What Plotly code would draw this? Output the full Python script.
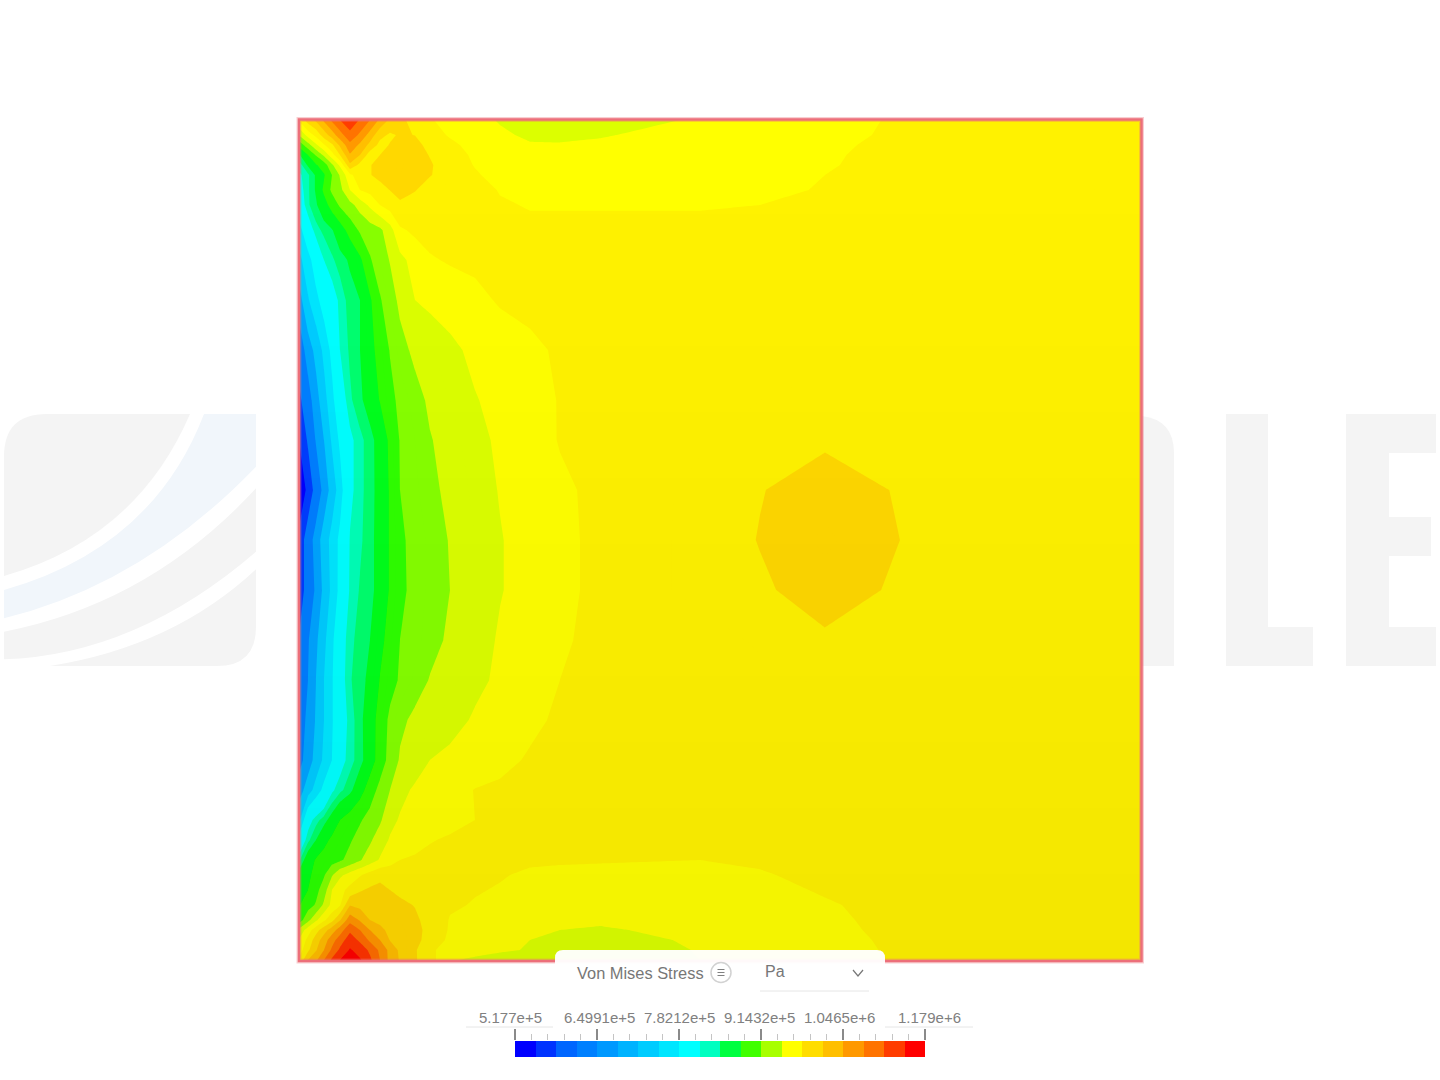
import plotly.graph_objects as go

W, H = 1440, 1080
VMIN, VMAX = 517700.0, 1179000.0

# plate coordinates (width 842, height 840)
plate_x = [0, 8, 16, 24, 32, 40, 50, 60, 70, 80, 90, 100, 115, 130, 150, 175, 200, 230, 260, 300, 400, 460, 525, 600, 700, 842]
plate_y = [0, 10, 20, 30, 40, 55, 70, 85, 100, 120, 140, 170, 200, 240, 280, 320, 370, 420, 470, 520, 560, 610, 660, 700, 730, 755, 770, 785, 795, 805, 815, 825, 840]

# stress, expressed on the plate's 0-22 band scale, bottom row first
stress_bands = [
 [15.3,17.0,17.8,19.0,20.2,21.0,21.7,21.1,20.2,19.0,17.7,16.9,16.1,15.4,14.05,13.9,13.7,13.6,13.5,13.4,14.0,14.4,14.72,15.1,15.35,15.5],
 [14.6,15.8,16.9,18.0,19.2,20.2,21.1,20.6,19.8,18.8,17.7,16.8,16.1,15.3,14.3,14.2,14.1,13.95,13.7,13.5,14.05,14.5,14.75,15.1,15.35,15.5],
 [14.2,15.3,16.5,17.5,18.6,19.5,20.55,19.8,18.8,18.0,16.95,16.7,16.3,15.6,14.8,14.4,14.2,14.0,13.8,13.6,14.15,14.55,14.8,15.12,15.35,15.5],
 [13.4,14.5,15.6,16.6,17.5,18.5,19.8,19.0,18.0,17.3,16.7,16.6,16.3,15.7,14.9,14.5,14.3,14.1,14.0,13.9,14.25,14.6,14.85,15.15,15.35,15.5],
 [11.6,12.7,13.8,14.8,15.7,16.9,18.6,17.9,17.0,16.7,16.6,16.5,16.2,15.6,14.95,14.7,14.45,14.3,14.2,14.15,14.35,14.65,14.9,15.15,15.35,15.5],
 [11.0,11.6,12.1,13.2,14.3,14.9,16.95,16.7,16.5,16.5,16.4,16.25,15.95,15.6,15.1,14.95,14.8,14.6,14.5,14.45,14.55,14.75,14.95,15.17,15.35,15.5],
 [10.6,11.0,11.7,12.5,14.0,14.7,15.3,15.9,16.15,16.2,16.0,15.75,15.5,15.35,15.25,15.05,14.95,14.85,14.8,14.75,14.75,14.85,15.05,15.2,15.35,15.5],
 [10.4,10.8,11.3,11.9,12.9,13.8,14.4,14.9,15.4,15.8,15.7,15.5,15.35,15.25,15.2,15.15,15.05,14.9,14.9,14.9,14.9,14.95,15.15,15.25,15.35,15.5],
 [9.5,10.5,11.1,11.4,11.6,11.85,12.3,12.9,13.5,14.1,14.55,15.0,15.15,15.2,15.2,15.2,15.15,15.1,15.05,15.03,15.0,15.08,15.2,15.3,15.4,15.5],
 [8.2,9.35,10.0,10.7,11.2,11.5,11.9,12.35,12.85,13.5,14.1,14.3,14.6,14.95,15.1,15.15,15.2,15.2,15.2,15.15,15.1,15.15,15.25,15.35,15.4,15.5],
 [6.5,8.6,9.3,9.75,10.35,11.0,11.45,11.9,12.35,12.85,13.7,14.1,14.3,14.45,14.75,15.0,15.1,15.15,15.2,15.2,15.2,15.25,15.3,15.35,15.4,15.55],
 [5.1,6.0,6.9,7.8,8.85,9.35,9.8,10.6,11.5,12.3,13.0,13.7,14.15,14.35,14.65,15.03,15.15,15.2,15.2,15.2,15.2,15.25,15.3,15.35,15.4,15.55],
 [4.2,5.0,5.85,6.7,7.5,8.6,9.3,9.75,10.5,11.45,12.35,13.1,13.5,14.0,14.2,14.45,14.75,15.1,15.2,15.2,15.25,15.25,15.3,15.35,15.45,15.55],
 [4.0,4.75,5.6,6.5,7.4,8.35,9.25,9.8,10.5,11.4,12.2,12.8,13.2,13.4,13.7,14.1,14.4,14.8,15.15,15.2,15.2,15.3,15.35,15.4,15.45,15.55],
 [3.5,4.5,5.5,6.5,7.4,8.55,9.45,9.75,10.2,11.05,11.65,12.1,12.6,13.05,13.35,13.8,14.15,14.6,15.0,15.2,15.3,15.4,15.55,15.5,15.5,15.55],
 [3.2,4.4,5.3,6.25,7.25,8.5,9.35,9.7,10.0,10.7,11.4,12.0,12.35,12.7,13.15,13.6,14.1,14.5,14.9,15.2,15.35,15.55,15.9,15.6,15.5,15.5],
 [2.5,3.5,4.75,5.75,6.75,7.8,9.1,9.55,9.8,10.3,11.1,11.8,12.25,12.6,13.0,13.5,13.95,14.35,14.75,15.25,15.6,15.9,16.3,15.9,15.6,15.55],
 [2.2,3.8,5.0,5.95,6.85,7.75,9.05,9.4,9.8,10.3,11.1,11.85,12.25,12.6,13.05,13.5,13.95,14.35,14.75,15.25,15.6,16.03,16.6,16.0,15.6,15.55],
 [0.3,2.0,3.6,4.9,5.9,7.0,8.8,9.35,9.75,10.3,11.1,12.0,12.4,12.8,13.2,13.6,14.05,14.45,14.85,15.2,15.6,15.97,16.3,15.95,15.6,15.55],
 [1.7,3.2,4.6,5.5,6.65,7.7,8.8,9.35,9.75,10.35,11.2,12.05,12.5,12.95,13.3,13.75,14.15,14.6,15.05,15.2,15.45,15.65,15.9,15.7,15.6,15.55],
 [2.8,4.0,5.1,6.1,7.2,8.4,9.4,9.85,10.4,11.05,11.75,12.2,12.7,13.15,13.5,13.95,14.25,14.65,15.05,15.2,15.4,15.5,15.55,15.55,15.55,15.55],
 [3.9,5.0,5.8,6.75,7.8,9.0,9.6,10.0,10.7,11.35,12.05,12.7,13.2,13.45,13.8,14.2,14.5,14.85,15.1,15.2,15.35,15.4,15.45,15.5,15.55,15.55],
 [5.2,6.4,7.2,8.0,8.6,9.15,9.75,10.0,10.85,11.9,12.6,13.2,14.0,14.2,14.4,14.75,15.1,15.2,15.3,15.3,15.35,15.4,15.45,15.5,15.55,15.55],
 [6.3,7.1,8.1,9.0,9.4,9.75,10.1,10.8,11.9,12.55,13.05,13.7,14.4,14.9,15.1,15.2,15.25,15.25,15.2,15.2,15.2,15.25,15.35,15.45,15.5,15.55],
 [7.2,8.4,9.3,9.65,9.95,10.5,11.4,12.15,12.5,12.8,13.6,14.85,15.2,15.35,15.4,15.35,15.2,15.1,15.1,15.1,15.1,15.15,15.25,15.35,15.45,15.55],
 [8.4,9.4,9.9,10.6,11.4,12.15,12.7,13.4,14.2,15.0,15.45,15.9,15.6,15.4,15.3,15.2,15.05,14.97,14.97,14.97,14.97,15.0,15.12,15.3,15.4,15.55],
 [8.7,9.4,10.1,11.2,12.2,12.7,14.0,15.0,15.3,15.6,16.02,16.2,16.05,15.6,15.35,15.2,14.97,14.8,14.75,14.75,14.75,14.85,15.05,15.25,15.4,15.55],
 [8.9,9.4,10.1,10.9,12.0,13.1,14.8,15.5,15.95,16.3,16.4,16.5,16.3,16.05,15.6,15.1,14.7,14.5,14.5,14.5,14.5,14.7,15.0,15.2,15.35,15.55],
 [9.3,10.1,10.9,11.5,12.8,14.2,16.8,15.7,15.95,16.3,16.45,16.55,16.35,16.1,15.5,14.95,14.6,14.4,14.4,14.35,14.4,14.65,14.95,15.2,15.35,15.55],
 [10.0,11.0,12.1,13.2,14.6,16.0,17.9,17.0,15.5,16.0,16.3,16.5,16.4,15.95,15.4,14.85,14.4,14.2,14.2,14.2,14.35,14.6,14.9,15.25,15.3,15.55],
 [11.5,12.6,13.8,14.9,15.8,17.2,18.7,17.8,16.7,15.7,16.05,16.4,16.3,15.7,15.2,14.7,14.3,14.05,14.05,14.1,14.3,14.55,14.85,15.2,15.3,15.55],
 [13.2,14.4,15.3,16.5,17.5,18.6,19.7,18.8,17.6,16.3,15.85,16.1,15.98,15.4,14.9,14.5,14.1,13.9,13.85,13.95,14.25,14.5,14.75,15.15,15.3,15.55],
 [15.3,16.5,17.2,18.2,19.2,20.0,20.7,19.9,19.0,17.8,16.8,16.2,15.7,15.1,14.6,14.2,13.95,13.6,13.6,13.6,14.1,14.4,14.7,15.1,15.3,15.55],
]

plate_edges = [0, 1.5, 3, 4.5, 5.5, 6.5, 7.5, 9, 9.5, 10, 11, 12, 13, 14, 15, 16, 17, 18, 19, 20, 21, 22]
plate_colors = ["#0000ff", "#0040ff", "#0080ff", "#00a6ff", "#00ccff", "#00e6ff", "#00ffff", "#00ffb8", "#00ff70",
                "#00ff20", "#33ff00", "#88ff00", "#dcff00", "#ffff00", "#fff200", "#ffd800", "#ffbf00", "#ff9900",
                "#ff7300", "#ff3c00", "#ff0000"]

legend_colors = ["#0000ff", "#0033ff", "#0066ff", "#0080ff", "#0099ff", "#00b3ff", "#00ccff", "#00e6ff",
                 "#00ffff", "#00ffc0", "#00ff40", "#40ff00", "#a8ff00", "#ffff00", "#ffdd00", "#ffbf00",
                 "#ff9900", "#ff7300", "#ff3c00", "#ff0000"]

tick_values = [517700, 649910, 782120, 914320, 1046500, 1179000]
tick_labels = ["5.177e+5", "6.4991e+5", "7.8212e+5", "9.1432e+5", "1.0465e+6", "1.179e+6"]
tick_shift = [-5, 3, 1, -1, -3, 4]

band_unit = (VMAX - VMIN) / 22
z = [[VMIN + b * band_unit for b in row] for row in stress_bands]

# contour levels every half band; each half band takes the colour of the range it falls in
half_colors = []
for i in range(44):
    mid = (i + 0.5) / 2
    for lo, hi, c in zip(plate_edges[:-1], plate_edges[1:], plate_colors):
        if lo <= mid < hi:
            half_colors.append(c)
            break


def steps(colors):
    out = []
    n = len(colors)
    for i, c in enumerate(colors):
        out += [[i / n, c], [(i + 1) / n, c]]
    return out


def px(x, y):
    return x / W, 1 - y / H


def path(cmds):
    s = ""
    for c in cmds:
        if isinstance(c, str):
            s += c + " "
        else:
            a, b = px(*c)
            s += f"{a:.5f},{b:.5f} "
    return s.strip()


def z3(x, y, ox=0, oy=400):
    return (ox + x / 3, oy + y / 3)


WM = "#f4f4f4"
WB = "#f1f6fb"
wm_paths = [
    (WM, ["M", z3(12, 528), "L", z3(12, 170), "Q", z3(12, 42), z3(140, 42), "L", z3(570, 42), "Q", z3(409, 415), z3(12, 528), "Z"]),
    (WB, ["M", z3(612, 42), "L", z3(768, 42), "L", z3(768, 200), "Q", z3(430, 552), z3(12, 655), "L", z3(12, 570), "Q", z3(458, 444), z3(612, 42), "Z"]),
    (WM, ["M", z3(768, 265), "L", z3(768, 455), "Q", z3(410, 764), z3(12, 778), "L", z3(12, 695), "Q", z3(450, 610), z3(768, 265), "Z"]),
    (WM, ["M", z3(768, 508), "L", z3(768, 680), "Q", z3(768, 798), z3(650, 798), "L", z3(150, 798), "Q", z3(520, 740), z3(768, 508), "Z"]),
    (WM, ["M", (1142, 416), "Q", (1174, 420), (1174, 453), "L", (1174, 666), "L", (1142, 666), "Z"]),
    (WM, ["M", (1226, 414), "L", (1268, 414), "L", (1268, 627), "L", (1313, 627), "L", (1313, 666), "L", (1226, 666), "Z"]),
    (WM, ["M", (1346, 414), "L", (1436, 414), "L", (1436, 453), "L", (1389, 453), "L", (1389, 517), "L", (1431, 517),
          "L", (1431, 556), "L", (1389, 556), "L", (1389, 627), "L", (1436, 627), "L", (1436, 666), "L", (1346, 666), "Z"]),
]

shapes = []
for color, cmds in wm_paths:
    shapes.append(dict(type="path", xref="paper", yref="paper", layer="below", path=path(cmds),
                       fillcolor=color, line=dict(width=0)))

# soft light falloff over the plate: nested faint layers, darkest at the bottom
for k in range(12):
    top = 940 - k * 66
    ax, ay = px(300, 960)
    bx, by = px(1141, top)
    shapes.append(dict(type="rect", xref="paper", yref="paper", x0=ax, x1=bx, y0=ay, y1=by, layer="above",
                       fillcolor="rgba(0,0,0,0.0042)", line=dict(width=0)))

# plate outline
fx0, fy0 = px(299, 961)
fx1, fy1 = px(1141.5, 119.5)
shapes.append(dict(type="rect", xref="paper", yref="paper", x0=fx0, x1=fx1, y0=fy0, y1=fy1, layer="above",
                   line=dict(color="rgba(236,115,122,0.35)", width=5)))
shapes.append(dict(type="rect", xref="paper", yref="paper", x0=fx0, x1=fx1, y0=fy0, y1=fy1, layer="above",
                   line=dict(color="#ec6f7a", width=2.5)))

# panel
panel = ["M", (555, 1029), "L", (555, 958), "Q", (555, 950), (563, 950), "L", (877, 950), "Q", (885, 950), (885, 958), "L", (885, 1029), "Z"]
shapes.append(dict(type="path", xref="paper", yref="paper", layer="above", path=path(panel),
                   fillcolor="rgba(255,255,255,0.96)", line=dict(width=0)))


def hline(x0, x1, y, color="#e6e6e6", width=1):
    a, b = px(x0, y)
    c, d = px(x1, y)
    return dict(type="line", xref="paper", yref="paper", x0=a, x1=c, y0=b, y1=d, layer="above",
                line=dict(color=color, width=width))


shapes += [hline(466, 553, 1027), hline(885, 973, 1027), hline(760, 869, 991)]

cx0, cy0 = px(711, 962.5)
cx1, cy1 = px(731, 982.5)
shapes.append(dict(type="circle", xref="paper", yref="paper", x0=cx0, x1=cx1, y0=cy1, y1=cy0, layer="above",
                   fillcolor="white", line=dict(color="#d2d2d2", width=1.5)))
shapes.append(dict(type="path", xref="paper", yref="paper", layer="above",
                   path=path(["M", (853, 970), "L", (858, 976), "L", (863, 970)]),
                   line=dict(color="#777777", width=1.2)))
for yy in (969.5, 972.5, 975.5):
    shapes.append(hline(717.5, 724.5, yy, color="#808080", width=1))

annotations = [
    dict(text="Von Mises Stress", xref="paper", yref="paper", x=px(575, 0)[0], y=px(0, 973)[1], xanchor="left",
         yanchor="middle", showarrow=False, font=dict(family="Liberation Sans", size=16.4, color="#777777")),
    dict(text="Pa", xref="paper", yref="paper", x=px(763, 0)[0], y=px(0, 971)[1], xanchor="left",
         yanchor="middle", showarrow=False, font=dict(family="Liberation Sans", size=16, color="#777777")),
]
for v, t, dx in zip(tick_values, tick_labels, tick_shift):
    annotations.append(dict(text=t, xref="x2", yref="paper", x=v, xshift=dx, y=px(0, 1018)[1], xanchor="center",
                            yanchor="middle", showarrow=False,
                            font=dict(family="Liberation Sans", size=15, color="#808080")))

fig = go.Figure()
fig.add_trace(go.Contour(
    x=plate_x, y=plate_y, z=z, zmin=VMIN, zmax=VMAX, autocontour=False,
    contours=dict(start=VMIN, end=VMAX, size=band_unit / 2, coloring="fill", showlines=False),
    colorscale=steps(half_colors), line=dict(width=0, smoothing=0), showscale=False, hoverinfo="skip",
))

n_leg = len(legend_colors)
leg_step = (VMAX - VMIN) / n_leg
fig.add_trace(go.Heatmap(
    x=[VMIN + (i + 0.5) * leg_step for i in range(n_leg)], y=[0], z=[list(range(n_leg))],
    zmin=-0.5, zmax=n_leg - 0.5, colorscale=steps(legend_colors), showscale=False, hoverinfo="skip",
    xaxis="x2", yaxis="y2",
))

fig.update_layout(
    width=W, height=H, margin=dict(l=0, r=0, t=0, b=0), paper_bgcolor="white", plot_bgcolor="rgba(0,0,0,0)",
    showlegend=False, shapes=shapes, annotations=annotations,
    xaxis=dict(domain=[300 / W, 1142 / W], range=[0, 842], visible=False, fixedrange=True),
    yaxis=dict(domain=[1 - 960 / H, 1 - 120 / H], range=[0, 840], visible=False, fixedrange=True),
    xaxis2=dict(domain=[515 / W, 925 / W], range=[VMIN, VMAX], anchor="y2", side="top", showgrid=False,
                zeroline=False, showline=False, fixedrange=True, tickmode="array", tickvals=tick_values,
                showticklabels=False, ticks="outside", ticklen=11, tickwidth=1.5, tickcolor="#8a8a8a",
                minor=dict(tickmode="array", tickvals=[VMIN + i * (VMAX - VMIN) / 25 for i in range(26)],
                           ticks="outside", ticklen=6, tickwidth=1, tickcolor="#c4c4c4")),
    yaxis2=dict(domain=[1 - 1057 / H, 1 - 1041 / H], range=[-0.5, 0.5], anchor="x2", visible=False, fixedrange=True),
)

fig.write_html("out.html", config=dict(displayModeBar=False),
               post_script="document.body.style.margin='0';document.body.style.overflow='hidden';")
